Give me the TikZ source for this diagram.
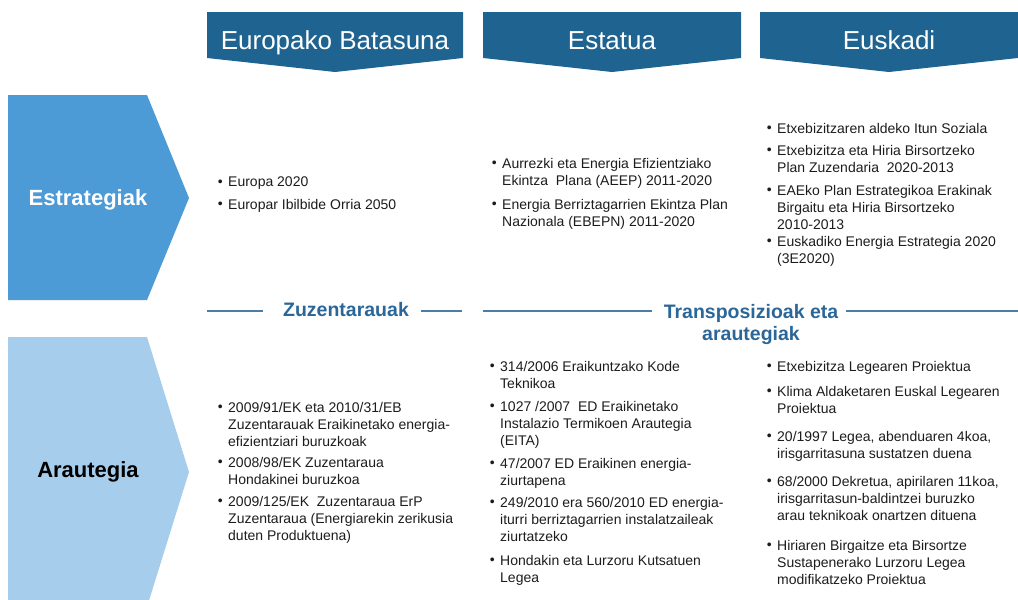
\documentclass[tikz,border=0pt]{standalone}
\usepackage{fontspec}
\setmainfont{Liberation Sans}
\usepackage{tikz}
\usetikzlibrary{positioning}
\definecolor{hdrblue}{HTML}{1F6390}
\definecolor{stratblue}{HTML}{4C9AD6}
\definecolor{lawblue}{HTML}{A6CEEC}
\definecolor{sepblue}{HTML}{2A6698}
\definecolor{bodygray}{HTML}{1C1C1C}
\newcommand{\bodyfont}{\fontsize{14}{17}\selectfont}
\tikzset{
  hdrbox/.style={
      fill=hdrblue,
  },
  hdr/.style={
      text=white,
      font=\fontsize{26}{30}\selectfont,
      inner sep=0pt,
      anchor=base,
  },
  rowtag/.style={
      font=\fontsize{22}{26}\selectfont\bfseries,
      inner sep=0pt,
  },
  seplbl/.style={
      text=sepblue,
      font=\fontsize{19.5}{22}\selectfont\bfseries,
      align=center,
      inner sep=0pt,
  },
  sepline/.style={
      draw=sepblue!85,
      line width=1.2pt,
  },
  item/.style={
      anchor=north west,
      align=left,
      inner sep=0pt,
      text=bodygray,
      font=\bodyfont,
      label={[anchor=north east, inner sep=0pt, xshift=-5pt, text=bodygray, font=\bodyfont]north west:\vphantom{E}\textbullet},
  },
}

\begin{document}
\begin{tikzpicture}[x=1pt,y=-1pt]
  \useasboundingbox (0,0) rectangle (1018,600);

  % column heads
  \fill[hdrbox] (207,12) -- (463,12) -- (463,58) -- (335,72) -- (207,58) -- cycle;
  \fill[hdrbox] (483,12) -- (741,12) -- (741,58) -- (612,72) -- (483,58) -- cycle;
  \fill[hdrbox] (760,12) -- (1018,12) -- (1018,58) -- (889,72) -- (760,58) -- cycle;
  \node[hdr] (eu) at (335,49) {Europako Batasuna};
  \node[hdr] (estatua) at (612,49) {Estatua};
  \node[hdr] (euskadi) at (889,49) {Euskadi};

  % row tags
  \fill[stratblue] (8,95) -- (147,95) -- (189,198) -- (147,300) -- (8,300) -- cycle;
  \fill[lawblue] (8,337) -- (147,337) -- (189,472) -- (147,607) -- (8,607) -- cycle;
  \node[rowtag, text=white] (strat) at (88,200) {Estrategiak};
  \node[rowtag, text=black] (araut) at (88,472) {Arautegia};

  % separators
  \node[seplbl] (zuz) at (346,310) {Zuzentarauak};
  \node[seplbl, anchor=north] (transp) at (751,304) {Transposizioak eta\\arautegiak};
  \coordinate (za) at (207,311);
  \coordinate (zb) at (263,311);
  \coordinate (zc) at (421,311);
  \coordinate (zd) at (462,311);
  \coordinate (ta) at (483,311);
  \coordinate (tb) at (652,311);
  \coordinate (tc) at (846,311);
  \coordinate (td) at (1018,311);
  \draw[sepline] (za) -- (zb);
  \draw[sepline] (zc) -- (zd);
  \draw[sepline] (ta) -- (tb);
  \draw[sepline] (tc) -- (td);

  % strategies
  \node[item] (s1a) at (228,177) {Europa 2020};
  \node[item] (s1b) at (228,199) {Europar Ibilbide Orria 2050};
  \node[item] (s2a) at (502,158) {Aurrezki eta Energia Efizientziako\\Ekintza\ \ Plana (AEEP) 2011-2020};
  \node[item] (s2b) at (502,199) {Energia Berriztagarrien Ekintza Plan\\Nazionala (EBEPN) 2011-2020};
  \node[item] (s3a) at (777,123) {Etxebizitzaren aldeko Itun Soziala};
  \node[item] (s3b) at (777,145) {Etxebizitza eta Hiria Birsortzeko\\Plan Zuzendaria\ \ 2020-2013};
  \node[item] (s3c) at (777,185) {EAEko Plan Estrategikoa Erakinak\\Birgaitu eta Hiria Birsortzeko\\2010-2013};
  \node[item] (s3d) at (777,236) {Euskadiko Energia Estrategia 2020\\(3E2020)};

  % regulations
  \node[item] (r1a) at (228,402) {2009/91/EK eta 2010/31/EB\\Zuzentarauak Eraikinetako energia-\\efizientziari buruzkoak};
  \node[item] (r1b) at (228,457) {2008/98/EK Zuzentaraua\\Hondakinei buruzkoa};
  \node[item] (r1c) at (228,496) {2009/125/EK\ \ Zuzentaraua ErP\\Zuzentaraua (Energiarekin zerikusia\\duten Produktuena)};
  \node[item] (r2a) at (500,361) {314/2006 Eraikuntzako Kode\\Teknikoa};
  \node[item] (r2b) at (500,401) {1027 /2007\ \ ED Eraikinetako\\Instalazio Termikoen Arautegia\\(EITA)};
  \node[item] (r2c) at (500,458) {47/2007 ED Eraikinen energia-\\ziurtapena};
  \node[item] (r2d) at (500,497) {249/2010 era 560/2010 ED energia-\\iturri berriztagarrien instalatzaileak\\ziurtatzeko};
  \node[item] (r2e) at (500,555) {Hondakin eta Lurzoru Kutsatuen\\Legea};
  \node[item] (r3a) at (777,361) {Etxebizitza Legearen Proiektua};
  \node[item] (r3b) at (777,386) {Klima Aldaketaren Euskal Legearen\\Proiektua};
  \node[item] (r3c) at (777,431) {20/1997 Legea, abenduaren 4koa,\\irisgarritasuna sustatzen duena};
  \node[item] (r3d) at (777,476) {68/2000 Dekretua, apirilaren 11koa,\\irisgarritasun-baldintzei buruzko\\arau teknikoak onartzen dituena};
  \node[item] (r3e) at (777,540) {Hiriaren Birgaitze eta Birsortze\\Sustapenerako Lurzoru Legea\\modifikatzeko Proiektua};
\end{tikzpicture}
\end{document}
